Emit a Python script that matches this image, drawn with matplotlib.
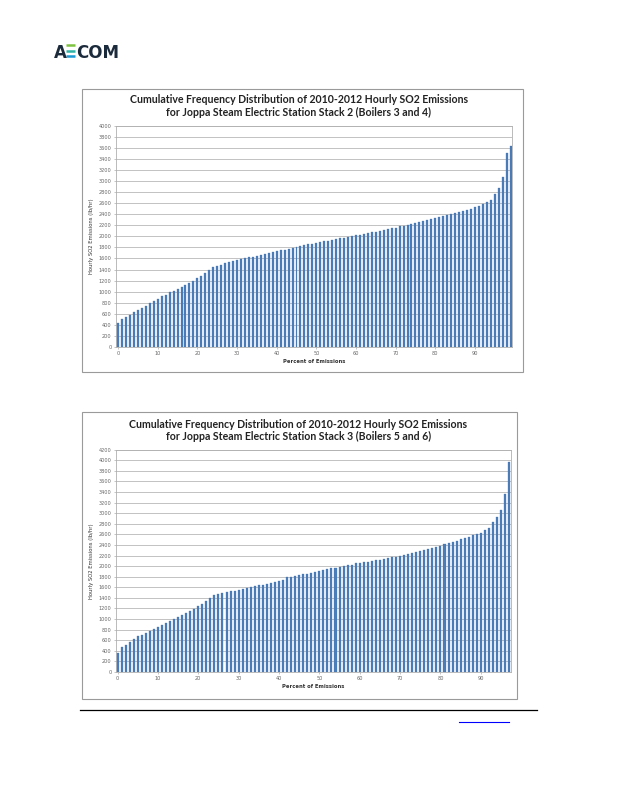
import numpy as np
import matplotlib.pyplot as plt
from matplotlib.patches import Rectangle
from matplotlib.lines import Line2D

# Stack 2 (Boilers 3 and 4), lb/hr at each percent of emissions
stack2_so2 = [428, 500, 536, 578, 627, 675, 711, 747, 789, 831,
              873, 916, 946, 988, 1018, 1054, 1090, 1127, 1157, 1193,
              1241, 1289, 1337, 1398, 1440, 1470, 1488, 1512, 1536, 1554,
              1566, 1584, 1602, 1620, 1633, 1645, 1663, 1675, 1699, 1717,
              1729, 1747, 1759, 1771, 1789, 1807, 1819, 1837, 1855, 1867,
              1886, 1898, 1910, 1922, 1934, 1952, 1964, 1976, 1988, 2006,
              2018, 2030, 2048, 2060, 2072, 2084, 2096, 2114, 2133, 2145,
              2157, 2181, 2193, 2205, 2223, 2241, 2259, 2277, 2295, 2313,
              2331, 2349, 2367, 2386, 2404, 2422, 2440, 2458, 2482, 2500,
              2524, 2548, 2578, 2614, 2663, 2765, 2873, 3072, 3512, 3633]

# Stack 3 (Boilers 5 and 6)
stack3_so2 = [358, 478, 510, 560, 616, 673, 704, 736, 780, 818,
              855, 893, 930, 968, 1000, 1038, 1082, 1120, 1157, 1195,
              1240, 1290, 1333, 1390, 1446, 1465, 1484, 1503, 1522, 1535,
              1553, 1572, 1585, 1597, 1616, 1635, 1648, 1667, 1686, 1704,
              1723, 1742, 1792, 1800, 1805, 1824, 1843, 1855, 1868, 1887,
              1906, 1925, 1943, 1956, 1968, 1981, 1994, 2013, 2031, 2050,
              2063, 2075, 2082, 2094, 2107, 2120, 2132, 2151, 2170, 2182,
              2201, 2214, 2233, 2252, 2270, 2289, 2314, 2333, 2352, 2371,
              2390, 2415, 2434, 2459, 2484, 2509, 2535, 2560, 2585, 2610,
              2635, 2680, 2730, 2830, 2925, 3063, 3365, 3962]

title_line1 = "Cumulative Frequency Distribution of 2010-2012 Hourly SO2 Emissions"
titles = [title_line1 + "\nfor Joppa Steam Electric Station Stack 2 (Boilers 3 and 4)",
          title_line1 + "\nfor Joppa Steam Electric Station Stack 3 (Boilers 5 and 6)"]
x_tick_labels = [0, 10, 20, 30, 40, 50, 60, 70, 80, 90]

W, H = 618, 800
fig = plt.figure(figsize=(W / 100, H / 100), dpi=100)
fig.patch.set_facecolor('white')


def px_rect(x0, y0, x1, y1):
    # pixel box (top-left origin) -> figure fraction rect
    return [x0 / W, 1 - y1 / H, (x1 - x0) / W, (y1 - y0) / H]


def draw_chart(values, title, frame, plot, ymax, xlim, title_xy, ylab_x):
    fx0, fy0, fx1, fy1 = frame
    r = px_rect(fx0, fy0, fx1, fy1)
    fig.patches.append(Rectangle((r[0], r[1]), r[2], r[3], transform=fig.transFigure,
                                 fill=False, edgecolor='#9a9a9a', linewidth=0.8))
    ax = fig.add_axes(px_rect(*plot))
    x = np.arange(len(values))
    ax.bar(x, values, width=0.5, color='#4a7ebb', edgecolor='#3d6ca6', linewidth=0.2, zorder=3)
    ax.set_xlim(*xlim)
    ax.set_ylim(0, ymax)
    ax.set_yticks(np.arange(0, ymax + 1, 200))
    ax.set_yticklabels([str(v) for v in range(0, ymax + 1, 200)])
    ax.set_xticks(x_tick_labels)
    ax.set_xticklabels([str(v) for v in x_tick_labels])
    ax.tick_params(axis='both', labelsize=3.6, labelcolor='#666666', color='#999999',
                   length=1.5, width=0.4, pad=1.5)
    ax.grid(axis='y', color='#b8b8b8', linewidth=0.6, zorder=0)
    for s in ax.spines.values():
        s.set_color('#b0b0b0')
        s.set_linewidth(0.6)
    ax.set_xlabel('Percent of Emissions', fontsize=3.8, fontweight='bold', color='#333333', labelpad=2)
    fig.text(ylab_x / W, 1 - (plot[1] + plot[3]) / 2 / H, 'Hourly SO2 Emissions (lb/hr)',
             rotation=90, ha='center', va='center', fontsize=3.8, color='#333333')
    fig.text(title_xy[0] / W, 1 - title_xy[1] / H, title, ha='center', va='center',
             family='Lato', fontweight='bold', fontsize=7.6, color='#222222', linespacing=1.2)
    return ax


draw_chart(stack2_so2, titles[0], (82, 89, 523, 372), (115.7, 125.7, 512, 347),
           4000, (-0.6, 99.35), (299, 106), 91)
draw_chart(stack3_so2, titles[1], (82, 412, 517, 699), (115.7, 449.7, 510.7, 672),
           4200, (-0.45, 97.4), (298.5, 430.5), 91)

# AECOM logo (letters + striped E)
navy = '#1c2b3c'
fig.text(54 / W, 1 - 57.5 / H, 'A', fontsize=12, fontweight='bold', color=navy, va='baseline')
for yy, c in zip([45.2, 50.6, 56.0], ['#7fc241', '#2fb3a6', '#1b9ad6']):
    fig.lines.append(Line2D([66 / W, 75 / W], [1 - yy / H, 1 - yy / H], transform=fig.transFigure,
                            color=c, linewidth=1.8, solid_capstyle='butt'))
fig.text(76 / W, 1 - 57.5 / H, 'COM', fontsize=12, fontweight='bold', color=navy, va='baseline')

# footer rule and link underline
fig.lines.append(Line2D([80 / W, 537 / W], [1 - 710 / H, 1 - 710 / H], transform=fig.transFigure,
                        color='black', linewidth=0.9))
fig.lines.append(Line2D([459 / W, 509 / W], [1 - 722 / H, 1 - 722 / H], transform=fig.transFigure,
                        color='#0000ff', linewidth=0.8))

fig.savefig('out.png', dpi=100)
